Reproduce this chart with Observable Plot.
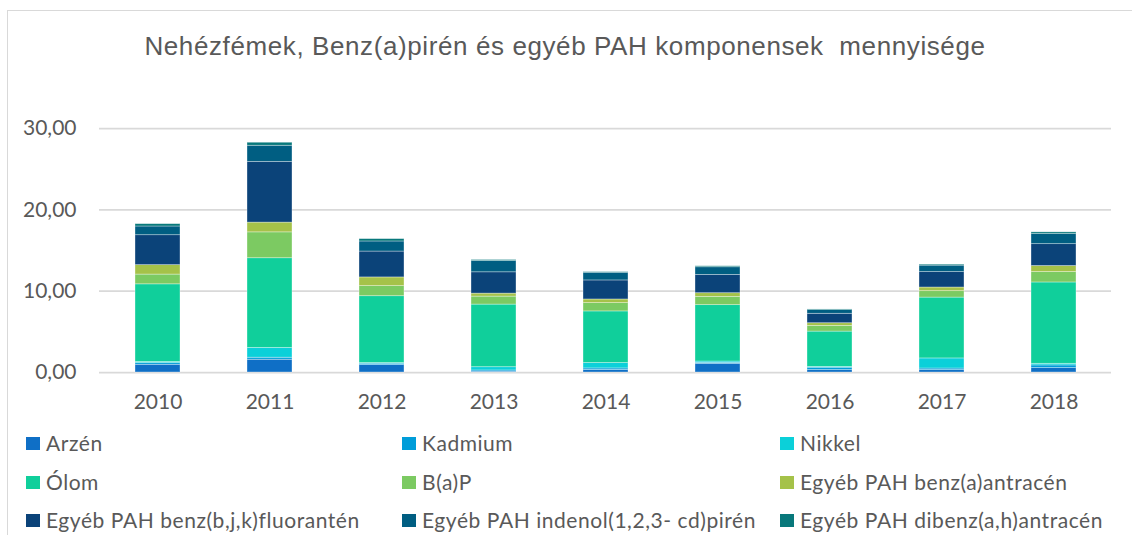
<!DOCTYPE html>
<html>
<head>
<meta charset="utf-8">
<script src="https://cdn.jsdelivr.net/npm/d3@7"></script>
<script src="https://cdn.jsdelivr.net/npm/@observablehq/plot@0.6"></script>
<style>
  html, body { margin: 0; padding: 0; background: #ffffff; }
  #wrap { position: relative; width: 1132px; height: 535px; overflow: hidden; background: #fff; }
  #frame { position: absolute; left: 7px; top: 10px; width: 1140px; height: 600px; border: 1.5px solid #d9d9d9; box-sizing: border-box; }
  #title { position: absolute; left: 0; width: 1130px; top: 33px; line-height: 26px; text-align: center; font-family: "Liberation Sans", Arial, sans-serif; font-size: 26px; letter-spacing: 0.6px; color: #595959; white-space: pre; }
  #chart { position: absolute; left: 0; top: 0; }
  .leg { position: absolute; font-family: Lato, sans-serif; font-size: 21px; letter-spacing: 0.55px; color: #595959; white-space: nowrap; line-height: 1; }
  .leg .sw { position: absolute; width: 14px; height: 13px; }
  .leg .tx { position: absolute; }
</style>
</head>
<body>
<div id="wrap">
  <div id="frame"></div>
  <div id="title">Nehézfémek, Benz(a)pirén és egyéb PAH komponensek  mennyisége</div>
  <div id="chart"></div>
</div>
<script>
// Categories
const years = ["2010","2011","2012","2013","2014","2015","2016","2017","2018"];

// Series names (stack order, bottom to top)
const seriesNames = [
  "Arzén", "Kadmium", "Nikkel",
  "Ólom", "B(a)P", "Egyéb PAH benz(a)antracén",
  "Egyéb PAH benz(b,j,k)fluorantén", "Egyéb PAH indenol(1,2,3- cd)pirén", "Egyéb PAH dibenz(a,h)antracén"
];

// Series values (per year)
const arzen     = [0.95, 1.57, 0.91, 0.10, 0.30, 1.07, 0.29, 0.29, 0.54];
const kadmium   = [0.20, 0.25, 0.17, 0.15, 0.20, 0.12, 0.30, 0.20, 0.33];
const nikkel    = [0.15, 1.20, 0.08, 0.40, 0.66, 0.16, 0.10, 1.24, 0.20];
const olom      = [9.54, 11.03, 8.22, 7.70, 6.35, 6.93, 4.34, 7.48, 10.00];
const bap       = [1.20, 3.18, 1.24, 0.98, 1.02, 1.02, 0.70, 0.79, 1.28];
const benzA     = [1.16, 1.20, 1.07, 0.37, 0.45, 0.45, 0.33, 0.45, 0.74];
const benzBJK   = [3.68, 7.47, 3.18, 2.62, 2.34, 2.25, 1.16, 1.90, 2.69];
const indenol   = [1.07, 1.98, 1.24, 1.39, 0.94, 0.94, 0.45, 0.79, 1.24];
const dibenz    = [0.29, 0.37, 0.29, 0.12, 0.08, 0.12, 0.08, 0.12, 0.21];

// Y tick values
const yTicks = [0, 10, 20, 30];

// Colours
const colors = ["#0f6fc6", "#009dd9", "#0bd0d9", "#10cf9b", "#7cca62", "#a5c249", "#0b4379", "#005e82", "#08787b"];

const seriesValues = [arzen, kadmium, nikkel, olom, bap, benzA, benzBJK, indenol, dibenz];
const data = [];
seriesNames.forEach((s, si) => {
  years.forEach((y, yi) => data.push({year: y, series: s, value: seriesValues[si][yi]}));
});

const fmt = d => d.toFixed(2).replace(".", ",");

const chart = Plot.plot({
  width: 1132,
  height: 420,
  marginTop: 128,
  marginBottom: 48,
  marginLeft: 99,
  marginRight: 21,
  style: { fontFamily: "Lato, sans-serif", fontSize: "21px", color: "#595959", background: "transparent", overflow: "visible" },
  x: { domain: years, paddingInner: 0.6, paddingOuter: 0.3, label: null },
  y: { domain: [0, 30], ticks: yTicks, label: null },
  color: { domain: seriesNames, range: colors },
  marks: [
    Plot.ruleY(yTicks, { stroke: "#d9d9d9", strokeWidth: 1.75 }),
    Plot.barY(data, { x: "year", y: "value", fill: "series", stroke: "white", strokeOpacity: 0.45, strokeWidth: 0.75 }),
    Plot.axisY({ ticks: yTicks, tickSize: 0, tickPadding: 23, tickFormat: fmt, label: null }),
    Plot.axisX({ tickSize: 0, tickPadding: 22, label: null })
  ]
});
document.getElementById("chart").appendChild(chart);

// Legend (3 columns x 3 rows)
const legCols = [26, 402, 780];
const legRows = [443, 482, 520];
const wrap = document.getElementById("wrap");
seriesNames.forEach((s, i) => {
  const col = i % 3, row = Math.floor(i / 3);
  const div = document.createElement("div");
  div.className = "leg";
  div.style.left = legCols[col] + "px";
  div.style.top = legRows[row] + "px";
  const sw = document.createElement("div");
  sw.className = "sw";
  sw.style.background = colors[i];
  sw.style.left = "0px";
  sw.style.top = "-6.5px";
  const tx = document.createElement("div");
  tx.className = "tx";
  tx.textContent = s;
  tx.style.left = "20px";
  tx.style.top = "-11.5px";
  div.appendChild(sw);
  div.appendChild(tx);
  wrap.appendChild(div);
});
</script>
</body>
</html>
